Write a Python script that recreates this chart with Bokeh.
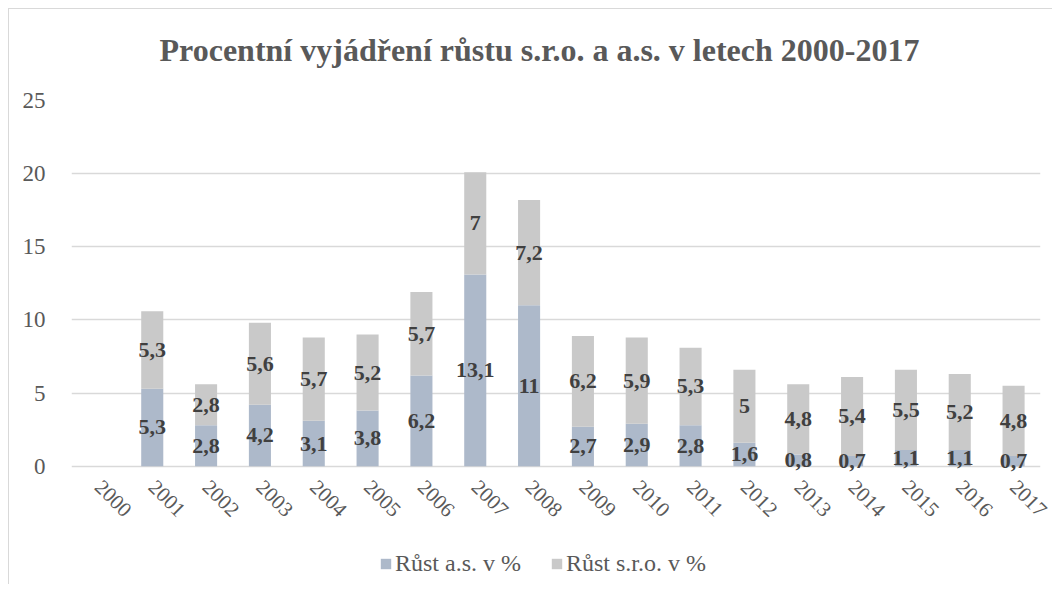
import math
from bokeh.plotting import figure
from bokeh.layouts import column
from bokeh.models import ColumnDataSource, FactorRange, Range1d, Legend, LegendItem, Label
from bokeh.core.properties import value
from bokeh.embed import file_html
from bokeh.resources import INLINE

# ---- data ----
years = [str(y) for y in range(2000, 2018)]
rust_as = [0, 5.3, 2.8, 4.2, 3.1, 3.8, 6.2, 13.1, 11, 2.7, 2.9, 2.8, 1.6, 0.8, 0.7, 1.1, 1.1, 0.7]
rust_sro = [0, 5.3, 2.8, 5.6, 5.7, 5.2, 5.7, 7, 7.2, 6.2, 5.9, 5.3, 5, 4.8, 5.4, 5.5, 5.2, 4.8]
series_names = ["Růst a.s. v %", "Růst s.r.o. v %"]
y_ticks = [0, 5, 10, 15, 20, 25]
title_text = "Procentní vyjádření růstu s.r.o. a a.s. v letech 2000-2017"

colors = ["#adb9ca", "#c9c9c9"]
FONT = "Liberation Serif"
GRID = "#d9d9d9"
W = 1044


def fmt(v):
    return f"{v:g}".replace(".", ",")


def strip(h):
    f = figure(width=W, height=h, x_range=Range1d(0, 1), y_range=Range1d(0, 1),
               output_backend="svg", toolbar_location=None, min_border=0,
               x_axis_location=None, y_axis_location=None)
    f.outline_line_color = None
    f.grid.visible = False
    f.background_fill_color = "white"
    f.border_fill_color = "white"
    return f


# ---- title strip ----
tf = strip(80)
tf.margin = (8, 0, 0, 8)
tf.styles = {"border-left": f"1px solid {GRID}", "border-top": f"1px solid {GRID}"}
tf.add_layout(Label(x=468, y=40, x_units="screen", y_units="screen", text=title_text,
                    text_align="center", text_baseline="alphabetic", text_font=FONT,
                    text_font_style="bold", text_font_size="32px", text_color="#595959"))

# ---- main chart ----
src = ColumnDataSource(dict(year=years, a=rust_as, s=rust_sro))
p = figure(
    x_range=FactorRange(*years, range_padding=0),
    y_range=Range1d(-0.5, 25),
    width=W, height=452,
    output_backend="svg", toolbar_location=None,
    min_border_left=62, min_border_right=13, min_border_top=12, min_border_bottom=67,
)
p.margin = (0, 0, 0, 8)
p.styles = {"border-left": f"1px solid {GRID}"}
p.outline_line_color = None
p.background_fill_color = "white"
p.border_fill_color = "white"

rs = p.vbar_stack(["a", "s"], x="year", width=0.41, color=colors, line_color=None, source=src)

lx, ly, lt = [], [], []
for yr, a, s in zip(years, rust_as, rust_sro):
    if a > 0:
        lx.append(yr); ly.append(a / 2); lt.append(fmt(a))
    if s > 0:
        lx.append(yr); ly.append(a + s / 2); lt.append(fmt(s))
lsrc = ColumnDataSource(dict(x=lx, y=ly, t=lt))
p.text(x="x", y="y", text="t", source=lsrc, text_align="center", text_baseline="middle",
       text_font=value(FONT), text_font_style="bold", text_font_size="22px", text_color="#404040")

p.yaxis.ticker = y_ticks
p.yaxis.axis_line_color = None
p.yaxis.major_tick_line_color = None
p.yaxis.minor_tick_line_color = None
p.yaxis.major_label_text_font = FONT
p.yaxis.major_label_text_font_size = "23px"
p.yaxis.major_label_text_color = "#595959"
p.yaxis.major_label_standoff = 20

p.xaxis.axis_line_color = None
p.xaxis.major_tick_line_color = None
p.xaxis.minor_tick_line_color = None
p.xaxis.major_label_orientation = -math.pi / 4
p.xaxis.major_label_text_font = FONT
p.xaxis.major_label_text_font_size = "21px"
p.xaxis.major_label_text_color = "#595959"
p.xaxis.major_label_standoff = 4

p.xgrid.grid_line_color = None
p.ygrid.grid_line_color = GRID
p.ygrid.grid_line_width = 1.5

# ---- legend strip ----
lf = strip(44)
lf.margin = (0, 0, 0, 8)
lf.styles = {"border-left": f"1px solid {GRID}"}
proxies = [lf.vbar(x=[0], top=[0], width=0, fill_color=c, line_color=None) for c in colors]
legend = Legend(
    items=[LegendItem(label=n, renderers=[r]) for n, r in zip(series_names, proxies)],
    orientation="horizontal", location=(308, 7),
    label_text_font=FONT, label_text_font_size="24px", label_text_color="#595959",
    glyph_width=13, glyph_height=13, label_standoff=3, spacing=29,
    padding=0, margin=0, border_line_color=None, background_fill_alpha=0,
)
lf.add_layout(legend)

layout = column(tf, p, lf, spacing=0)
open("out.html", "w").write(file_html(layout, INLINE))
